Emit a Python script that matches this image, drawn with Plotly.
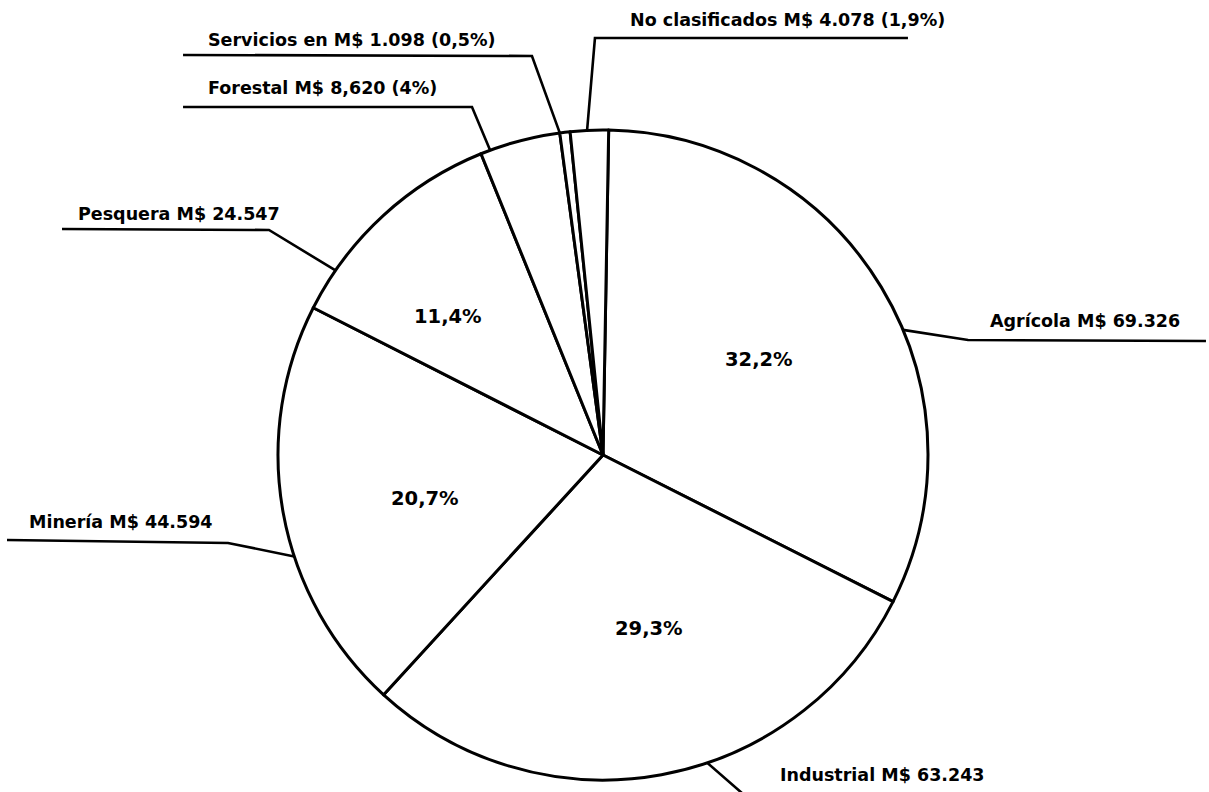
import math
import plotly.graph_objects as go

# ---------------- data ----------------
categories = ["Agrícola", "Industrial", "Minería", "Pesquera", "Forestal",
              "Servicios en", "No clasificados"]
values = [69.326, 63.243, 44.594, 24.547, 8.620, 1.098, 4.078]
value_labels = ["69.326", "63.243", "44.594", "24.547", "8,620", "1.098", "4.078"]
pct_labels = ["32,2%", "29,3%", "20,7%", "11,4%", "4%", "0,5%", "1,9%"]

# ---------------- layout / geometry ----------------
W, H = 1209, 792
CX, CY, R = 603, 455, 325          # pie centre and radius in pixels
ROTATION = 1                        # degrees, clockwise from 12 o'clock

def px(x):
    return x / W

def py(y):
    return 1 - y / H

# outer label text: (text, left x, centre y)
outer_text = [
    "Agrícola M$ {v}",
    "Industrial M$ {v}",
    "Minería M$ {v}",
    "Pesquera M$ {v}",
    "Forestal M$ {v} ({p})",
    "Servicios en M$ {v} ({p})",
    "No clasificados M$ {v} ({p})",
]
outer_pos = [(988, 321), (778, 775), (27, 522), (76, 214), (206, 88), (206, 40), (628, 20)]
# leader: fraction of slice where it touches the circle, elbow point, end point
leaders = [
    (0.573, (968, 340), (1206, 341)),
    (0.421, (750, 800), (1000, 800)),
    (0.394, (228, 543), (7, 540)),
    (0.187, (269, 230), (62, 229)),
    (0.12, (472, 107), (183, 107)),
    (0.0, (532, 56), (183, 55)),
    (0.44, (595, 38), (908, 38)),
]
# inner percentage labels (index, centre x, centre y)
inner_pos = [(0, 759, 359), (1, 649, 628), (2, 425, 498), (3, 448, 316)]

FONT = "DejaVu Sans"

fig = go.Figure()
fig.add_trace(go.Pie(
    labels=categories,
    values=values,
    sort=False,
    direction="clockwise",
    rotation=ROTATION,
    textinfo="none",
    hoverinfo="label+value+percent",
    marker=dict(colors=["white"] * len(values), line=dict(color="black", width=3)),
    domain=dict(x=[px(CX - R), px(CX + R)], y=[py(CY + R), py(CY - R)]),
    showlegend=False,
))

total = sum(values)
annotations = []
shapes = []
start = ROTATION
for i, v in enumerate(values):
    span = v / total * 360.0
    frac, elbow, end = leaders[i]
    ang = math.radians(start + frac * span)
    ax = CX + R * math.sin(ang)
    ay = CY - R * math.cos(ang)
    path = "M {:.4f},{:.4f} L {:.4f},{:.4f} L {:.4f},{:.4f}".format(
        px(ax), py(ay), px(elbow[0]), py(elbow[1]), px(end[0]), py(end[1]))
    shapes.append(dict(type="path", xref="paper", yref="paper", path=path,
                       line=dict(color="black", width=2.6)))
    tx, ty = outer_pos[i]
    annotations.append(dict(
        x=px(tx), y=py(ty), xref="paper", yref="paper", xanchor="left", yanchor="middle",
        text=outer_text[i].format(v=value_labels[i], p=pct_labels[i]),
        showarrow=False, font=dict(family=FONT, size=17.5, color="black", weight="bold"),
    ))
    start += span

for idx, x, y in inner_pos:
    annotations.append(dict(
        x=px(x), y=py(y), xref="paper", yref="paper", xanchor="center", yanchor="middle",
        text=pct_labels[idx], showarrow=False,
        font=dict(family=FONT, size=19.5, color="black", weight="bold"),
    ))

fig.update_layout(
    width=W, height=H,
    margin=dict(l=0, r=0, t=0, b=0),
    paper_bgcolor="white", plot_bgcolor="white",
    shapes=shapes, annotations=annotations,
    showlegend=False,
)

fig.write_html("out.html")
